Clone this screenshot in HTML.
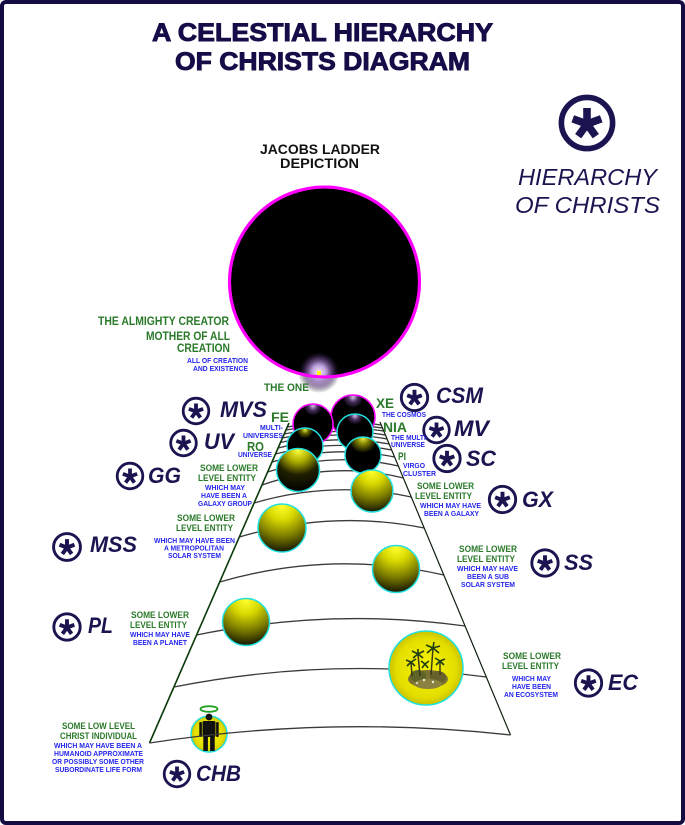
<!DOCTYPE html>
<html><head><meta charset="utf-8"><style>
html,body{margin:0;padding:0;background:#fff;}
svg{display:block;}
text{font-family:"Liberation Sans",Arial,sans-serif;}
.g{fill:#2a7a2a;font-weight:bold;}
.b{fill:#2626ee;font-weight:bold;font-size:7.3px;}
.n{fill:#1a1450;font-weight:bold;font-style:italic;font-size:22px;}
</style></head><body>
<svg width="685" height="825" viewBox="0 0 685 825" xmlns="http://www.w3.org/2000/svg">
<defs>
  <radialGradient id="glow" cx="0.5" cy="0.5" r="0.5">
    <stop offset="0" stop-color="#f4e8ff"/>
    <stop offset="0.35" stop-color="#b89ad8"/>
    <stop offset="0.7" stop-color="#5a3a78" stop-opacity="0.6"/>
    <stop offset="1" stop-color="#000" stop-opacity="0"/>
  </radialGradient>
  <radialGradient id="yel" cx="0.5" cy="0.08" r="0.95" fx="0.5" fy="0.04">
    <stop offset="0" stop-color="#ffff30"/>
    <stop offset="0.3" stop-color="#d8d800"/>
    <stop offset="0.65" stop-color="#7a7a00"/>
    <stop offset="1" stop-color="#0c0c00"/>
  </radialGradient>
  <radialGradient id="gg" cx="0.5" cy="0.05" r="0.95" fx="0.5" fy="0.03">
    <stop offset="0" stop-color="#ffff40"/>
    <stop offset="0.28" stop-color="#b0b000"/>
    <stop offset="0.6" stop-color="#202000"/>
    <stop offset="1" stop-color="#000"/>
  </radialGradient>
  <radialGradient id="pi" cx="0.5" cy="0.05" r="0.9" fx="0.5" fy="0.03">
    <stop offset="0" stop-color="#f0f040"/>
    <stop offset="0.2" stop-color="#7a7a00"/>
    <stop offset="0.45" stop-color="#000"/>
    <stop offset="1" stop-color="#000"/>
  </radialGradient>
  <radialGradient id="ro" cx="0.5" cy="0.06" r="0.8" fx="0.5" fy="0.05">
    <stop offset="0" stop-color="#e8e840"/>
    <stop offset="0.14" stop-color="#5a5a00"/>
    <stop offset="0.3" stop-color="#000"/>
    <stop offset="1" stop-color="#000"/>
  </radialGradient>
  <radialGradient id="pu" cx="0.5" cy="0.06" r="0.8" fx="0.5" fy="0.05">
    <stop offset="0" stop-color="#d8c0e8"/>
    <stop offset="0.14" stop-color="#4a3060"/>
    <stop offset="0.3" stop-color="#000"/>
    <stop offset="1" stop-color="#000"/>
  </radialGradient>
  <radialGradient id="ec" cx="0.5" cy="0.5" r="0.5">
    <stop offset="0" stop-color="#f8f400"/>
    <stop offset="0.8" stop-color="#e4de00"/>
    <stop offset="1" stop-color="#c8c200"/>
  </radialGradient>
  <g id="ico">
    <circle cx="0" cy="0" r="12.8" fill="#fff" stroke="#1a1450" stroke-width="2.8"/>
    <g stroke="#1a1450" stroke-width="3.8" stroke-linecap="butt">
      <line x1="0" y1="0.5" x2="0" y2="-7.5"/>
      <line x1="0" y1="0.5" x2="7.13" y2="-2.1"/>
      <line x1="0" y1="0.5" x2="4.41" y2="6.6"/>
      <line x1="0" y1="0.5" x2="-4.41" y2="6.6"/>
      <line x1="0" y1="0.5" x2="-7.13" y2="-2.1"/>
    </g>
    <circle cx="0" cy="0.5" r="2.4" fill="#1a1450"/>
  </g>
</defs>

<!-- frame -->
<rect x="2" y="2" width="681" height="821" rx="4" fill="#fff" stroke="#140c40" stroke-width="4"/>

<!-- title -->
<text x="152" y="41" style="font-size:25px;font-weight:bold" fill="#160c48" stroke="#160c48" stroke-width="0.9" textLength="341" lengthAdjust="spacingAndGlyphs">A CELESTIAL HIERARCHY</text>
<text x="175" y="70" style="font-size:25px;font-weight:bold" fill="#160c48" stroke="#160c48" stroke-width="0.9" textLength="295" lengthAdjust="spacingAndGlyphs">OF CHRISTS DIAGRAM</text>

<text x="260" y="154" style="font-size:13.5px;font-weight:bold" fill="#111" textLength="120" lengthAdjust="spacingAndGlyphs">JACOBS LADDER</text>
<text x="280" y="168" style="font-size:13.5px;font-weight:bold" fill="#111" textLength="79" lengthAdjust="spacingAndGlyphs">DEPICTION</text>

<!-- big legend icon -->
<use href="#ico" transform="translate(587,123) scale(2)"/>
<text x="518" y="185" style="font-size:23px;font-style:italic" fill="#1a1450" textLength="139" lengthAdjust="spacingAndGlyphs">HIERARCHY</text>
<text x="515" y="213" style="font-size:23px;font-style:italic" fill="#1a1450" textLength="145" lengthAdjust="spacingAndGlyphs">OF CHRISTS</text>

<!-- creator circle -->
<circle cx="324.5" cy="282" r="95" fill="#000" stroke="#ff00ff" stroke-width="3"/>
<circle cx="319" cy="372" r="21" fill="url(#glow)"/>
<circle cx="324.5" cy="282" r="95" fill="none" stroke="#ff00ff" stroke-width="3"/>
<rect x="317" y="371" width="4" height="4" fill="#ffff00"/>

<!-- ladder rungs -->
<g fill="none" stroke="#3a3a3a" stroke-width="1.3">
  <path d="M287.3,427 Q334.3,418 381.3,425"/>
  <path d="M285.9,430 Q334.2,421 382.5,428"/>
  <path d="M284.2,434 Q334,423.5 383.8,431"/>
  <path d="M282.5,438 Q334,426.5 385.4,435"/>
  <path d="M280.5,442.5 Q333.8,429.3 387.1,439"/>
  <path d="M278.1,448 Q333.6,434 389.2,444"/>
  <path d="M275.5,454 Q333.6,439 391.7,450"/>
  <path d="M272,462 Q333.3,444.5 394.6,457"/>
  <path d="M267.6,472 Q333,451 398.3,466"/>
  <path d="M262,485 Q332.7,460.5 403.4,478"/>
  <path d="M254.1,503 Q332.7,480 411.3,497"/>
  <path d="M239.3,537 Q331.8,509.5 424.2,528"/>
  <path d="M219.7,582 Q331.8,549.5 443.8,575"/>
  <path d="M196.6,635 Q330.9,607.5 465.1,626"/>
  <path d="M173.9,687 Q330.1,656 486.3,677"/>
</g>
<!-- ladder sides -->
<line x1="289" y1="423" x2="149.5" y2="743" stroke="#0a3a0a" stroke-width="1.6"/>
<line x1="380" y1="422" x2="510.5" y2="735" stroke="#102010" stroke-width="1.2"/>

<!-- spheres -->
<circle cx="353" cy="417" r="22" fill="url(#pu)" stroke="#ff00ff" stroke-width="1.5"/>
<circle cx="313" cy="424" r="20" fill="url(#pu)" stroke="#ff00ff" stroke-width="1.5"/>
<circle cx="355" cy="432" r="18" fill="url(#pu)" stroke="#20e0e0" stroke-width="1.5"/>
<circle cx="305" cy="446" r="18" fill="url(#ro)" stroke="#20e0e0" stroke-width="1.5"/>
<circle cx="363" cy="455" r="18" fill="url(#pi)" stroke="#20e0e0" stroke-width="1.5"/>
<circle cx="298" cy="470" r="21.5" fill="url(#gg)" stroke="#20e0e0" stroke-width="1.5"/>
<circle cx="372" cy="491" r="21" fill="url(#yel)" stroke="#20e0e0" stroke-width="1.5"/>
<circle cx="282" cy="528" r="24" fill="url(#yel)" stroke="#20e0e0" stroke-width="1.5"/>
<circle cx="396" cy="569" r="23.5" fill="url(#yel)" stroke="#20e0e0" stroke-width="1.5"/>
<circle cx="246" cy="622" r="23.5" fill="url(#yel)" stroke="#20e0e0" stroke-width="1.5"/>

<!-- ecosystem sphere -->
<circle cx="426" cy="668" r="37" fill="url(#ec)" stroke="#20e0e0" stroke-width="1.5"/>
<g>
  <ellipse cx="428" cy="679" rx="20" ry="9" fill="#7a7232"/>
  <ellipse cx="418" cy="676" rx="8" ry="6" fill="#5e6428"/>
  <ellipse cx="438" cy="677" rx="8" ry="6" fill="#66602a"/>
  <ellipse cx="428" cy="684" rx="14" ry="5" fill="#8a8040"/>
  <circle cx="424" cy="680" r="1.3" fill="#e8e8d0"/>
  <circle cx="433" cy="682" r="1.2" fill="#e8e8d0"/>
  <circle cx="417" cy="683" r="1" fill="#e8e8d0"/>
  <g stroke="#3a3a18" stroke-width="1.5" fill="none">
    <line x1="420" y1="676" x2="418" y2="654"/>
    <line x1="431" y1="675" x2="433" y2="648"/>
    <line x1="412" y1="676" x2="411" y2="662"/>
    <line x1="440" y1="675" x2="440" y2="661"/>
  </g>
  <g stroke="#1e3e12" stroke-width="1.6" fill="none">
    <path d="M418,654 l-6,-3 M418,654 l6,-3 M418,654 l-5,4 M418,654 l5,4 M418,654 l0,-5"/>
    <path d="M433,648 l-7,-3 M433,648 l7,-2 M433,648 l-6,5 M433,648 l6,5 M433,648 l1,-6"/>
    <path d="M411,662 l-5,-2 M411,662 l5,-3 M411,662 l-4,4 M411,662 l4,4"/>
    <path d="M440,661 l-5,-3 M440,661 l5,-2 M440,661 l-4,4 M440,661 l4,4"/>
    <path d="M425,664 l-4,-3 M425,664 l4,-3 M425,664 l-3,4 M425,664 l3,4"/>
  </g>
</g>

<!-- CHB sphere -->
<circle cx="209" cy="734" r="18" fill="url(#ec)" stroke="#20e0e0" stroke-width="1.5"/>
<g fill="#111">
  <circle cx="209" cy="717" r="3.4"/>
  <rect x="202.5" y="721" width="13" height="16" rx="1.5"/>
  <rect x="199.3" y="722" width="2.6" height="15" rx="1"/>
  <rect x="216.1" y="722" width="2.6" height="15" rx="1"/>
  <rect x="203.3" y="736" width="4.6" height="15"/>
  <rect x="210.1" y="736" width="4.6" height="15"/>
</g>
<ellipse cx="209" cy="709" rx="8.5" ry="2.8" fill="none" stroke="#22a022" stroke-width="1.8"/>
<!-- bottom rung on top -->
<path d="M149.5,743 Q330,715 510.5,735" fill="none" stroke="#3a3a3a" stroke-width="1.3"/>

<!-- icons -->
<use href="#ico" transform="translate(196,411)"/>
<use href="#ico" transform="translate(183.5,443)"/>
<use href="#ico" transform="translate(130,476)"/>
<use href="#ico" transform="translate(67,547) scale(1.05)"/>
<use href="#ico" transform="translate(67,627) scale(1.03)"/>
<use href="#ico" transform="translate(177,774)"/>
<use href="#ico" transform="translate(414.5,397.5) scale(1.03)"/>
<use href="#ico" transform="translate(436.5,430)"/>
<use href="#ico" transform="translate(447,458.5) scale(1.03)"/>
<use href="#ico" transform="translate(502.5,499.5) scale(1.03)"/>
<use href="#ico" transform="translate(545,563) scale(1.03)"/>
<use href="#ico" transform="translate(588.5,683) scale(1.03)"/>

<!-- icon labels -->
<text class="n" x="220" y="417" textLength="47" lengthAdjust="spacingAndGlyphs">MVS</text>
<text class="n" x="204" y="449" textLength="30" lengthAdjust="spacingAndGlyphs">UV</text>
<text class="n" x="148" y="483" textLength="33" lengthAdjust="spacingAndGlyphs">GG</text>
<text class="n" x="90" y="552" textLength="47" lengthAdjust="spacingAndGlyphs">MSS</text>
<text class="n" x="88" y="633" textLength="25" lengthAdjust="spacingAndGlyphs">PL</text>
<text class="n" x="196" y="781" textLength="45" lengthAdjust="spacingAndGlyphs">CHB</text>
<text class="n" x="436" y="403" textLength="47" lengthAdjust="spacingAndGlyphs">CSM</text>
<text class="n" x="454" y="436" textLength="35" lengthAdjust="spacingAndGlyphs">MV</text>
<text class="n" x="466" y="466" textLength="30" lengthAdjust="spacingAndGlyphs">SC</text>
<text class="n" x="522" y="507" textLength="31" lengthAdjust="spacingAndGlyphs">GX</text>
<text class="n" x="564" y="570" textLength="29" lengthAdjust="spacingAndGlyphs">SS</text>
<text class="n" x="608" y="690" textLength="30" lengthAdjust="spacingAndGlyphs">EC</text>

<!-- green labels -->
<text class="g" x="98" y="325" style="font-size:11.5px" textLength="131" lengthAdjust="spacingAndGlyphs">THE ALMIGHTY CREATOR</text>
<text class="g" x="146" y="340" style="font-size:11.8px" textLength="84" lengthAdjust="spacingAndGlyphs">MOTHER OF ALL</text>
<text class="g" x="177" y="352" style="font-size:12px" textLength="53" lengthAdjust="spacingAndGlyphs">CREATION</text>
<text class="g" x="264" y="391" style="font-size:10.7px" textLength="45" lengthAdjust="spacingAndGlyphs">THE ONE</text>
<text class="g" x="271" y="422" style="font-size:14px" textLength="18" lengthAdjust="spacingAndGlyphs">FE</text>
<text class="g" x="247" y="451" style="font-size:12.5px" textLength="17" lengthAdjust="spacingAndGlyphs">RO</text>
<text class="g" x="376" y="408" style="font-size:14px" textLength="18" lengthAdjust="spacingAndGlyphs">XE</text>
<text class="g" x="383" y="432" style="font-size:14px" textLength="24" lengthAdjust="spacingAndGlyphs">NIA</text>
<text class="g" x="398" y="460" style="font-size:11px" textLength="8" lengthAdjust="spacingAndGlyphs">PI</text>
<text class="g" x="200" y="471" style="font-size:8.8px" textLength="58" lengthAdjust="spacingAndGlyphs">SOME LOWER</text>
<text class="g" x="198" y="481" style="font-size:8.8px" textLength="58" lengthAdjust="spacingAndGlyphs">LEVEL ENTITY</text>
<text class="g" x="177" y="521" style="font-size:8.8px" textLength="58" lengthAdjust="spacingAndGlyphs">SOME LOWER</text>
<text class="g" x="176" y="531" style="font-size:8.8px" textLength="57" lengthAdjust="spacingAndGlyphs">LEVEL ENTITY</text>
<text class="g" x="131" y="618" style="font-size:8.8px" textLength="58" lengthAdjust="spacingAndGlyphs">SOME LOWER</text>
<text class="g" x="130" y="628" style="font-size:8.8px" textLength="57" lengthAdjust="spacingAndGlyphs">LEVEL ENTITY</text>
<text class="g" x="62" y="729" style="font-size:8.8px" textLength="73" lengthAdjust="spacingAndGlyphs">SOME LOW LEVEL</text>
<text class="g" x="60" y="739" style="font-size:8.8px" textLength="77" lengthAdjust="spacingAndGlyphs">CHRIST INDIVIDUAL</text>
<text class="g" x="417" y="489" style="font-size:8.8px" textLength="57" lengthAdjust="spacingAndGlyphs">SOME LOWER</text>
<text class="g" x="415" y="499" style="font-size:8.8px" textLength="57" lengthAdjust="spacingAndGlyphs">LEVEL ENTITY</text>
<text class="g" x="459" y="552" style="font-size:8.8px" textLength="58" lengthAdjust="spacingAndGlyphs">SOME LOWER</text>
<text class="g" x="457" y="562" style="font-size:8.8px" textLength="58" lengthAdjust="spacingAndGlyphs">LEVEL ENTITY</text>
<text class="g" x="503" y="659" style="font-size:8.8px" textLength="58" lengthAdjust="spacingAndGlyphs">SOME LOWER</text>
<text class="g" x="502" y="669" style="font-size:8.8px" textLength="57" lengthAdjust="spacingAndGlyphs">LEVEL ENTITY</text>

<!-- blue labels -->
<text class="b" x="187" y="363" textLength="61" lengthAdjust="spacingAndGlyphs">ALL OF CREATION</text>
<text class="b" x="193" y="371" textLength="55" lengthAdjust="spacingAndGlyphs">AND EXISTENCE</text>
<text class="b" x="260" y="430" textLength="23" lengthAdjust="spacingAndGlyphs">MULTI-</text>
<text class="b" x="243" y="438" textLength="40" lengthAdjust="spacingAndGlyphs">UNIVERSES</text>
<text class="b" x="238" y="457" textLength="34" lengthAdjust="spacingAndGlyphs">UNIVERSE</text>
<text class="b" x="205" y="490" textLength="40" lengthAdjust="spacingAndGlyphs">WHICH MAY</text>
<text class="b" x="201" y="498" textLength="46" lengthAdjust="spacingAndGlyphs">HAVE BEEN A</text>
<text class="b" x="198" y="506" textLength="54" lengthAdjust="spacingAndGlyphs">GALAXY GROUP</text>
<text class="b" x="154" y="543" textLength="81" lengthAdjust="spacingAndGlyphs">WHICH MAY HAVE BEEN</text>
<text class="b" x="164" y="550.5" textLength="60" lengthAdjust="spacingAndGlyphs">A METROPOLITAN</text>
<text class="b" x="168" y="558" textLength="53" lengthAdjust="spacingAndGlyphs">SOLAR SYSTEM</text>
<text class="b" x="130" y="637" textLength="60" lengthAdjust="spacingAndGlyphs">WHICH MAY HAVE</text>
<text class="b" x="133" y="645" textLength="54" lengthAdjust="spacingAndGlyphs">BEEN A PLANET</text>
<text class="b" x="54" y="748" textLength="88" lengthAdjust="spacingAndGlyphs">WHICH MAY HAVE BEEN A</text>
<text class="b" x="54" y="756" textLength="89" lengthAdjust="spacingAndGlyphs">HUMANOID APPROXIMATE</text>
<text class="b" x="52" y="764" textLength="92" lengthAdjust="spacingAndGlyphs">OR POSSIBLY SOME OTHER</text>
<text class="b" x="55" y="772" textLength="87" lengthAdjust="spacingAndGlyphs">SUBORDINATE LIFE FORM</text>
<text class="b" x="382" y="417" textLength="44" lengthAdjust="spacingAndGlyphs">THE COSMOS</text>
<text class="b" x="391" y="440" textLength="37" lengthAdjust="spacingAndGlyphs">THE MULTI-</text>
<text class="b" x="391" y="447" textLength="34" lengthAdjust="spacingAndGlyphs">UNIVERSE</text>
<text class="b" x="403" y="468" textLength="22" lengthAdjust="spacingAndGlyphs">VIRGO</text>
<text class="b" x="403" y="476" textLength="33" lengthAdjust="spacingAndGlyphs">CLUSTER</text>
<text class="b" x="420" y="508" textLength="61" lengthAdjust="spacingAndGlyphs">WHICH MAY HAVE</text>
<text class="b" x="424" y="516" textLength="55" lengthAdjust="spacingAndGlyphs">BEEN A GALAXY</text>
<text class="b" x="457" y="571" textLength="61" lengthAdjust="spacingAndGlyphs">WHICH MAY HAVE</text>
<text class="b" x="467" y="579" textLength="42" lengthAdjust="spacingAndGlyphs">BEEN A SUB</text>
<text class="b" x="461" y="587" textLength="54" lengthAdjust="spacingAndGlyphs">SOLAR SYSTEM</text>
<text class="b" x="512" y="681" textLength="39" lengthAdjust="spacingAndGlyphs">WHICH MAY</text>
<text class="b" x="512" y="689" textLength="39" lengthAdjust="spacingAndGlyphs">HAVE BEEN</text>
<text class="b" x="504" y="697" textLength="54" lengthAdjust="spacingAndGlyphs">AN ECOSYSTEM</text>
</svg>
</body></html>
